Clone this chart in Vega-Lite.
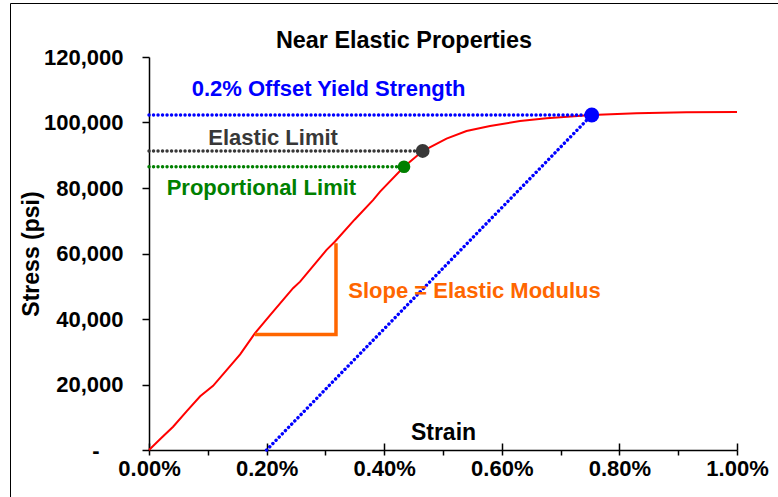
{
  "$schema": "https://vega.github.io/schema/vega-lite/v6.json",
  "width": 768,
  "height": 494,
  "autosize": {"type": "none"},
  "padding": {"left": 10, "top": 3, "right": 0, "bottom": 0},
  "background": "white",
  "title": {
    "text": "Near Elastic Properties",
    "fontSize": 23.4,
    "fontWeight": "bold",
    "color": "#000000",
    "font": "Liberation Sans",
    "anchor": "middle",
    "frame": "group",
    "baseline": "alphabetic",
    "offset": -68,
    "dx": 10
  },
  "config": {
    "font": "Liberation Sans",
    "view": {"stroke": "#000000", "strokeWidth": 1}
  },
  "datasets": {
    "curve": [
      {"s": 0, "p": 0}, {"s": 0.0002, "p": 3500}, {"s": 0.00041, "p": 7100},
      {"s": 0.00065, "p": 12000}, {"s": 0.00087, "p": 16400}, {"s": 0.00109, "p": 19600},
      {"s": 0.00132, "p": 24400}, {"s": 0.00155, "p": 29200}, {"s": 0.0018, "p": 35600},
      {"s": 0.00206, "p": 41200}, {"s": 0.00245, "p": 49400}, {"s": 0.00257, "p": 51400},
      {"s": 0.00302, "p": 61100}, {"s": 0.00316, "p": 63600}, {"s": 0.0035, "p": 70400},
      {"s": 0.00381, "p": 76300}, {"s": 0.00393, "p": 78900}, {"s": 0.004337, "p": 86500},
      {"s": 0.004654, "p": 91300}, {"s": 0.00506, "p": 95100}, {"s": 0.0054, "p": 97400},
      {"s": 0.0058, "p": 98900}, {"s": 0.00631, "p": 100460}, {"s": 0.00676, "p": 101300},
      {"s": 0.00753, "p": 102300}, {"s": 0.00829, "p": 102800}, {"s": 0.00914, "p": 103100},
      {"s": 0.01, "p": 103200}
    ],
    "slope": [
      {"o": 1, "s": 0.0018, "p": 35300},
      {"o": 2, "s": 0.00318, "p": 35300},
      {"o": 3, "s": 0.00318, "p": 63100}
    ],
    "dotted": [
      {"g": "yield", "s": 0, "p": 102300}, {"g": "yield", "s": 0.00753, "p": 102300},
      {"g": "elastic", "s": 0, "p": 91300}, {"g": "elastic", "s": 0.004654, "p": 91300},
      {"g": "prop", "s": 0, "p": 86500}, {"g": "prop", "s": 0.004337, "p": 86500},
      {"g": "offset", "s": 0.002, "p": 0}, {"g": "offset", "s": 0.00753, "p": 102300}
    ],
    "points": [
      {"g": "yield", "s": 0.00753, "p": 102300},
      {"g": "elastic", "s": 0.004654, "p": 91300},
      {"g": "prop", "s": 0.004337, "p": 86500}
    ],
    "labels": [
      {"g": "yield", "t": "0.2% Offset Yield Strength", "s": 0.000726, "p": 108100},
      {"g": "elastic", "t": "Elastic Limit", "s": 0.001009, "p": 93100},
      {"g": "prop", "t": "Proportional Limit", "s": 0.000301, "p": 77900},
      {"g": "slope", "t": "Slope = Elastic Modulus", "s": 0.00339, "p": 46300}
    ]
  },
  "resolve": {"axis": {"x": "independent", "y": "independent"}},
  "layer": [
    {
      "mark": {"type": "rule", "color": "#a0a0a0", "strokeWidth": 2},
      "encoding": {
        "x": {"datum": 0, "type": "quantitative", "axis": null, "scale": {"domain": [0, 0.01], "range": [139, 727]}},
        "x2": {"datum": 0.01},
        "y": {"datum": 120000, "type": "quantitative", "axis": null, "scale": {"domain": [0, 120000], "range": [447, 54]}}
      }
    },
    {
      "mark": {"type": "rule", "color": "#a0a0a0", "strokeWidth": 2},
      "encoding": {
        "x": {"datum": 0.01, "type": "quantitative", "axis": null},
        "y": {"datum": 0, "type": "quantitative", "axis": null},
        "y2": {"datum": 120000}
      }
    },
    {
      "data": {"name": "curve"},
      "mark": {"type": "line", "color": "#ff0000", "strokeWidth": 2},
      "encoding": {
        "x": {
          "field": "s", "type": "quantitative",
          "scale": {"domain": [0, 0.01], "range": [139, 727]},
          "axis": {
            "orient": "bottom", "offset": -47,
            "values": [0, 0.001, 0.002, 0.003, 0.004, 0.005, 0.006, 0.007, 0.008, 0.009, 0.01],
            "format": ".2%",
            "labelExpr": "round(datum.value * 1000) % 2 == 1 ? '' : datum.label",
            "grid": false,
            "domainColor": "#000000", "domainWidth": 1.5,
            "tickColor": "#000000", "tickWidth": 1.5, "tickSize": 5,
            "labelFont": "Liberation Sans", "labelFontSize": 22, "labelFontWeight": "bold",
            "labelColor": "#000000", "labelPadding": 3, "labelFlush": false, "labelOverlap": false,
            "title": "Strain", "titleFont": "Liberation Sans", "titleFontSize": 23,
            "titleFontWeight": "bold", "titleColor": "#000000",
            "titleY": -18, "titleBaseline": "middle"
          }
        },
        "y": {
          "field": "p", "type": "quantitative",
          "scale": {"domain": [0, 120000], "range": [447, 54]},
          "axis": {
            "orient": "left", "offset": -139,
            "values": [0, 20000, 40000, 60000, 80000, 100000, 120000],
            "labelExpr": "datum.value == 0 ? '' : format(datum.value, ',')",
            "grid": false,
            "domainColor": "#000000", "domainWidth": 1.5,
            "tickColor": "#000000", "tickWidth": 1.5, "tickSize": 7,
            "labelFont": "Liberation Sans", "labelFontSize": 22, "labelFontWeight": "bold",
            "labelColor": "#000000", "labelPadding": 19, "labelFlush": false, "labelOverlap": false,
            "title": "Stress (psi)", "titleFont": "Liberation Sans", "titleFontSize": 23,
            "titleFontWeight": "bold", "titleColor": "#000000", "titlePadding": 0
          }
        }
      }
    },
    {
      "data": {"name": "slope"},
      "mark": {"type": "line", "color": "#ff6600", "strokeWidth": 3.5, "strokeJoin": "miter"},
      "encoding": {
        "x": {"field": "s", "type": "quantitative", "axis": null},
        "y": {"field": "p", "type": "quantitative", "axis": null},
        "order": {"field": "o", "type": "ordinal"}
      }
    },
    {
      "data": {"name": "dotted"},
      "mark": {"type": "line", "strokeWidth": 3.4, "strokeCap": "round", "strokeDash": [0.1, 4.4]},
      "encoding": {
        "x": {
          "field": "s", "type": "quantitative",
          "axis": {
            "orient": "bottom", "offset": -47,
            "values": [0, 0.002, 0.004, 0.006, 0.008, 0.01],
            "domain": false, "labels": false, "grid": false, "title": null,
            "tickColor": "#000000", "tickWidth": 1.5, "tickSize": -7
          }
        },
        "y": {"field": "p", "type": "quantitative", "axis": null},
        "detail": {"field": "g"},
        "color": {
          "field": "g", "type": "nominal", "legend": null,
          "scale": {"domain": ["yield", "offset", "elastic", "prop", "slope"], "range": ["#0000ff", "#0000ff", "#383838", "#008000", "#ff6600"]}
        }
      }
    },
    {
      "data": {"name": "points"},
      "mark": {"type": "circle", "opacity": 1},
      "encoding": {
        "x": {"field": "s", "type": "quantitative", "axis": null},
        "y": {
          "field": "p", "type": "quantitative",
          "axis": {
            "orient": "left", "offset": -139,
            "values": [0],
            "labelExpr": "'-'",
            "grid": false, "domain": false, "title": null,
            "tickColor": "transparent", "tickSize": 7,
            "labelFont": "Liberation Sans", "labelFontSize": 22, "labelFontWeight": "bold",
            "labelColor": "#000000", "labelPadding": 43, "labelFlush": false, "labelOverlap": false
          }
        },
        "color": {"field": "g", "type": "nominal", "legend": null},
        "size": {"field": "g", "type": "nominal", "legend": null, "scale": {"domain": ["yield", "elastic", "prop"], "range": [220, 160, 160]}}
      }
    },
    {
      "data": {"name": "labels"},
      "mark": {"type": "text", "align": "left", "baseline": "alphabetic", "font": "Liberation Sans", "fontSize": 22, "fontWeight": "bold"},
      "encoding": {
        "x": {"field": "s", "type": "quantitative", "axis": null},
        "y": {"field": "p", "type": "quantitative", "axis": null},
        "text": {"field": "t"},
        "color": {"field": "g", "type": "nominal", "legend": null}
      }
    }
  ]
}
